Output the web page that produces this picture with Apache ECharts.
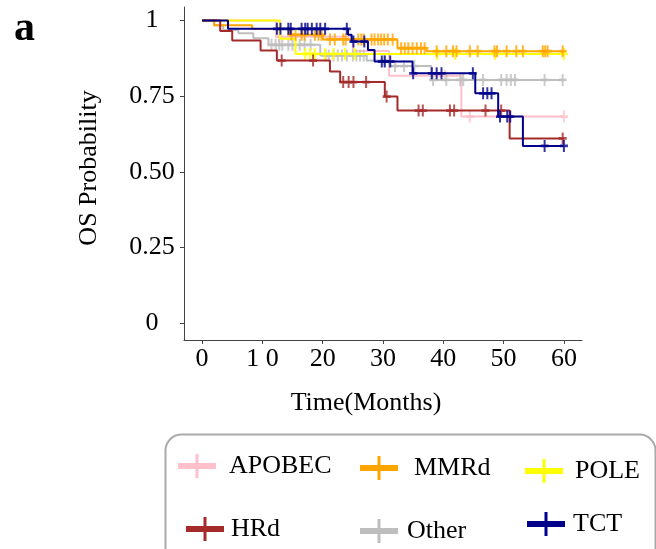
<!DOCTYPE html>
<html>
<head>
<meta charset="utf-8">
<script src="https://cdn.jsdelivr.net/npm/echarts@6/dist/echarts.min.js"></script>
<style>
html,body{margin:0;padding:0;background:#fff;}
#chart{width:656px;height:549px;}
</style>
</head>
<body>
<div id="chart"></div>
<script>
// ---- Data ----
var groupNames = ['APOBEC', 'MMRd', 'POLE', 'HRd', 'Other', 'TCT'];

var apobecTimes = [0, 12.3, 25.0, 31.0, 43.0, 60];
var apobecSurv  = [1.0, 0.947, 0.90, 0.818, 0.683, 0.683];
var apobecCensor = [12.8, 40.3, 44.4, 60];

var mmrdTimes = [0, 2.0, 8.3, 14.5, 20.0, 32.4, 37.2, 60];
var mmrdSurv  = [1.0, 0.985, 0.972, 0.953, 0.938, 0.909, 0.899, 0.899];
var mmrdCensor = [14.8, 15.5, 16.5, 17.0, 18.7, 19.3, 19.8, 21.2, 22.0, 23.4, 23.8, 25.9, 26.4, 26.8,
                  28.1, 28.6, 29.2, 29.7, 30.2, 30.8, 31.6, 33.0, 33.6, 34.2, 34.9, 35.6, 36.3, 36.9,
                  38.9, 40.5, 41.6, 42.2, 44.4, 45.7, 48.5, 48.9, 50.5, 52.1, 53.2, 56.5, 56.9, 57.3, 59.8];

var poleTimes = [0, 12.9, 15.5, 60];
var poleSurv  = [1.0, 0.94, 0.890, 0.890];
var poleCensor = [17.1, 17.9, 18.7, 20.4, 21.8, 23.7, 25.3, 39.0, 42.0, 48.6, 60];

var hrdTimes = [0, 3.0, 5.0, 9.7, 12.4, 21.2, 22.9, 30.3, 32.4, 51.0, 60];
var hrdSurv  = [1.0, 0.966, 0.934, 0.901, 0.868, 0.832, 0.797, 0.749, 0.703, 0.611, 0.611];
var hrdCensor = [13.2, 18.4, 23.4, 24.3, 25.1, 27.2, 30.6, 35.9, 36.6, 41.1, 41.8, 47.0, 49.6, 59.8];

var otherTimes = [0, 2.0, 3.5, 6.0, 8.5, 11.0, 19.6, 27.3, 31.0, 38.0, 60];
var otherSurv  = [1.0, 0.985, 0.969, 0.958, 0.942, 0.92, 0.885, 0.868, 0.850, 0.804, 0.804];
var otherCensor = [11.5, 12.2, 12.8, 13.3, 14.3, 15.0, 16.2, 17.0, 18.0, 20.5, 21.0, 21.8, 22.5, 23.2, 24.0,
                   25.0, 25.6, 26.2, 26.8, 30.2, 32.0, 33.5, 35.2, 38.3, 40.5, 42.8, 43.3, 46.6, 49.6,
                   50.5, 51.2, 51.9, 56.8, 59.8];

var tctTimes = [0, 4.3, 24.2, 24.8, 27.5, 28.6, 34.9, 45.3, 49.1, 53.2, 60];
var tctSurv  = [1.0, 0.973, 0.953, 0.931, 0.903, 0.865, 0.826, 0.760, 0.683, 0.586, 0.586];
var tctCensor = [12.4, 13.0, 14.3, 14.7, 16.5, 17.1, 17.5, 18.2, 19.0, 19.6, 20.4, 24.0, 25.1, 26.9,
                 29.8, 30.3, 31.2, 35.0, 38.1, 38.9, 39.7, 44.9, 46.6, 47.3, 48.0, 49.4, 50.6, 51.1, 56.8, 60];

var xTickValues = [0, 10, 20, 30, 40, 50, 60];
var xTickLabels = ['0', '1 0', '20', '30', '40', '50', '60'];
var yTickValues = [0, 0.25, 0.5, 0.75, 1];
var yTickLabels = ['0', '0.25', '0.50', '0.75', '1'];

// ---- Build ----
var FONT = "'Liberation Serif', 'Times New Roman', serif";
var colors = {APOBEC:'#ffc0cb', MMRd:'#ffa500', POLE:'#ffff00', HRd:'#a52a2a', Other:'#bebebe', TCT:'#00008b'};
var groups = {
  APOBEC: [apobecTimes, apobecSurv, apobecCensor],
  MMRd: [mmrdTimes, mmrdSurv, mmrdCensor],
  POLE: [poleTimes, poleSurv, poleCensor],
  HRd: [hrdTimes, hrdSurv, hrdCensor],
  Other: [otherTimes, otherSurv, otherCensor],
  TCT: [tctTimes, tctSurv, tctCensor]
};
function survAt(T, S, t) {
  var v = S[0];
  for (var i = 0; i < T.length; i++) { if (T[i] <= t) v = S[i]; }
  return v;
}
var drawOrder = ['APOBEC', 'Other', 'POLE', 'MMRd', 'HRd', 'TCT'];
var censorPath = 'path://M3,0 L5,0 L5,5 L8,5 L8,8 L5,8 L5,13 L3,13 L3,8 L0,8 L0,5 L3,5 Z';
var legendIcon = 'path://M0,9 L17.5,9 L17.5,0 L20.5,0 L20.5,9 L38,9 L38,15 L20.5,15 L20.5,24 L17.5,24 L17.5,15 L0,15 Z';

var series = [];
drawOrder.forEach(function (name, k) {
  var g = groups[name];
  series.push({
    name: name, type: 'line', step: 'end', showSymbol: false, symbol: 'none',
    data: g[0].map(function (t, i) { return [t, g[1][i]]; }),
    lineStyle: {color: colors[name], width: 2},
    itemStyle: {color: colors[name]},
    z: 2 + k * 2, silent: true, animation: false
  });
  series.push({
    name: name, type: 'scatter', symbol: censorPath, symbolSize: [8, 12],
    data: g[2].map(function (t) { return [t, survAt(g[0], g[1], t)]; }),
    itemStyle: {color: colors[name]},
    z: 3 + k * 2, silent: true, animation: false
  });
});

var legendPos = {
  APOBEC: {left: 178, top: 453, pad: [0, 0, 4, 8]},
  MMRd:   {left: 360, top: 455, pad: [0, 0, 12, 11]},
  POLE:   {left: 525, top: 458, pad: [0, 0, 2, 7]},
  HRd:    {left: 186, top: 516, pad: [2, 0, 0, 2]},
  Other:  {left: 360, top: 518, pad: [2, 0, 0, 4]},
  TCT:    {left: 527, top: 511, pad: [0, 0, 4, 3]}
};
var legends = groupNames.map(function (name) {
  var p = legendPos[name];
  return {
    data: [{name: name, icon: legendIcon}],
    left: p.left, top: p.top, padding: 0, itemWidth: 38, itemHeight: 24,
    selectedMode: false,
    itemStyle: {borderWidth: 0},
    textStyle: {fontFamily: FONT, fontSize: 26, color: '#000', padding: p.pad}
  };
});

var chart = echarts.init(document.getElementById('chart'), null, {renderer: 'canvas'});
chart.setOption({
  backgroundColor: '#fff',
  animation: false,
  title: {text: 'a', left: 14, top: 8, padding: 0,
          textStyle: {fontFamily: FONT, fontWeight: 'bold', fontSize: 42, color: '#000'}},
  grid: {left: 184, right: 74, top: 7, bottom: 209, containLabel: false},
  xAxis: {
    type: 'value', min: -3, max: 63,
    name: 'Time(Months)', nameLocation: 'middle', nameGap: 50,
    nameTextStyle: {fontFamily: FONT, fontSize: 26, color: '#000', padding: [0, 34, 0, 0]},
    axisLine: {show: true, onZero: false, lineStyle: {color: '#444', width: 1}},
    axisTick: {show: true, length: 4, customValues: xTickValues, lineStyle: {color: '#444'}},
    axisLabel: {customValues: xTickValues, margin: 6, fontFamily: FONT, fontSize: 26, color: '#000',
      formatter: function (v) { var i = xTickValues.indexOf(v); return i >= 0 ? xTickLabels[i] : ''; }},
    splitLine: {show: false}
  },
  yAxis: {
    type: 'value', min: -0.055, max: 1.045,
    name: 'OS Probability', nameLocation: 'middle', nameGap: 82,
    nameTextStyle: {fontFamily: FONT, fontSize: 26, color: '#000', padding: [0, 0, 0, 11]},
    axisLine: {show: true, onZero: false, lineStyle: {color: '#444', width: 1}},
    axisTick: {show: true, length: 4, customValues: yTickValues, lineStyle: {color: '#444'}},
    axisLabel: {customValues: yTickValues, margin: 32, align: 'center', fontFamily: FONT, fontSize: 26, color: '#000',
      formatter: function (v) { var i = yTickValues.indexOf(v); return i >= 0 ? yTickLabels[i] : ''; }},
    splitLine: {show: false}
  },
  legend: legends,
  graphic: [{
    type: 'rect', left: 163, top: 432, silent: true,
    shape: {width: 490, height: 140, r: 16},
    style: {fill: 'none', stroke: '#aaa', lineWidth: 2}
  }],
  series: series
});
</script>
</body>
</html>
